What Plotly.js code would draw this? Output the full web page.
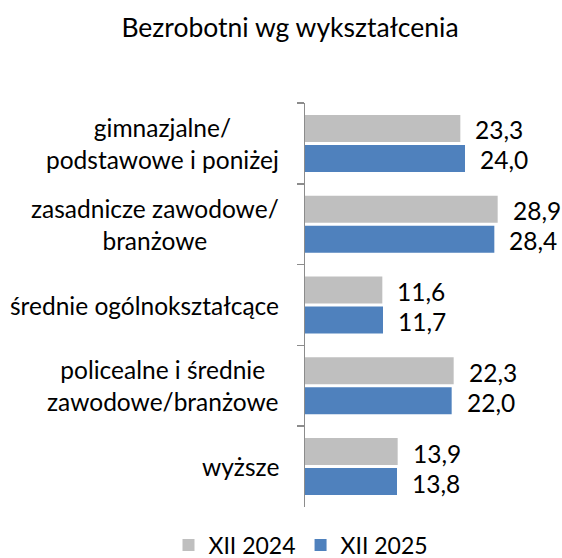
<!DOCTYPE html>
<html>
<head>
<meta charset="utf-8">
<script src="https://cdn.plot.ly/plotly-3.0.1.min.js"></script>
<style>html,body{margin:0;padding:0;background:#fff;}#chart{width:562px;height:558px;}</style>
</head>
<body>
<div id="chart"></div>
<script>
const categories = [
  "gimnazjalne/<br>podstawowe i poniżej",
  "zasadnicze zawodowe/<br>branżowe",
  "średnie ogólnokształcące",
  "policealne i średnie<br>zawodowe/branżowe",
  "wyższe"
];
const series2024 = [23.3, 28.9, 11.6, 22.3, 13.9];
const series2025 = [24.0, 28.4, 11.7, 22.0, 13.8];
const seriesNames = ["XII 2024", "XII 2025"];

const FONT = "Lato, 'Open Sans', sans-serif";
const fmt = v => v.toFixed(1).replace(".", ",");

const traces = [
  {type: "bar", orientation: "h", name: seriesNames[0], y: categories, x: series2024,
   marker: {color: "#BFBFBF"}, textposition: "none", hoverinfo: "none"},
  {type: "bar", orientation: "h", name: seriesNames[1], y: categories, x: series2025,
   marker: {color: "#4F81BD"}, textposition: "none", hoverinfo: "none"}
];

const catAnnotations = categories.map(c => ({
  xref: "paper", yref: "y", x: -0.12, y: c, xanchor: "right", yanchor: "middle",
  align: "center", showarrow: false, text: c, font: {family: FONT, size: 24.5, color: "#000"}
}));

const valueAnnotations = [];
[[series2024, 13.5], [series2025, -16.5]].forEach(([vals, ys]) => {
  vals.forEach((v, i) => valueAnnotations.push({
    xref: "x", yref: "y", x: v, y: categories[i], xanchor: "left", yanchor: "middle",
    xshift: 13, yshift: ys, showarrow: false, text: fmt(v),
    font: {family: FONT, size: 24.5, color: "#000"}
  }));
});

const layout = {
  width: 562, height: 558,
  margin: {l: 305, r: 57, t: 103, b: 51, autoexpand: false},
  paper_bgcolor: "#fff", plot_bgcolor: "#fff",
  separators: ", ",
  barmode: "group", bargap: 0.257, bargroupgap: 0.1,
  font: {family: FONT, size: 24, color: "#000"},
  title: {text: "Bezrobotni wg wykształcenia", font: {family: FONT, size: 26.5, color: "#000"},
          x: 0.516, xanchor: "center", xref: "container", y: 1 - 28/558, yanchor: "middle", yref: "container"},
  xaxis: {range: [0, 30], visible: false, fixedrange: true},
  yaxis: {type: "category", autorange: "reversed", showline: true, linecolor: "#8C8C8C", linewidth: 1.5,
          ticks: "outside", tickson: "boundaries", ticklen: 7, tickcolor: "#8C8C8C", tickwidth: 1.5,
          showticklabels: false, showgrid: false, zeroline: false, fixedrange: true},
  annotations: catAnnotations.concat(valueAnnotations),
  showlegend: true,
  legend: {orientation: "h", x: -0.02, xanchor: "center", y: -0.094, yanchor: "middle",
           font: {family: FONT, size: 23, color: "#000"}, traceorder: "normal"}
};

Plotly.newPlot("chart", traces, layout, {displayModeBar: false, staticPlot: true});
</script>
</body>
</html>
